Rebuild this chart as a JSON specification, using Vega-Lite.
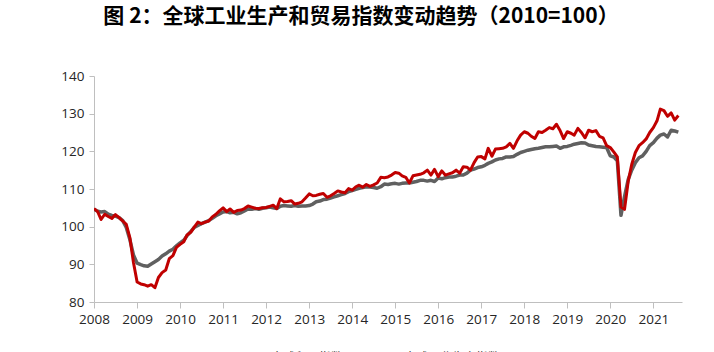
{
  "$schema": "https://vega.github.io/schema/vega-lite/v6.json",
  "autosize": "none",
  "width": 588,
  "height": 226,
  "padding": {"left": 94, "top": 76, "right": 32, "bottom": 50},
  "background": "white",
  "title": {
    "text": "图 2：全球工业生产和贸易指数变动趋势（2010=100）",
    "font": "Noto Sans CJK SC",
    "fontSize": 21,
    "fontWeight": "bold",
    "color": "#000000",
    "anchor": "middle",
    "frame": "group",
    "dx": -27,
    "offset": 42
  },
  "config": {
    "view": {"stroke": null},
    "axis": {
      "labelFont": "Open Sans",
      "labelFontSize": 13.5,
      "labelColor": "#262626",
      "domainColor": "#bfbfbf",
      "tickColor": "#bfbfbf",
      "grid": false,
      "title": null
    },
    "axisY": {"tickCount": 7, "labelOverlap": false},
    "legend": {"labelFont": "Noto Sans CJK SC", "labelFontSize": 12, "labelColor": "#333333"}
  },
  "data": {
    "values": [
      {"date": "2008-01-01", "ip": 104.6, "trade": 104.8},
      {"date": "2008-02-01", "ip": 104.1, "trade": 104.0},
      {"date": "2008-03-01", "ip": 103.9, "trade": 101.9},
      {"date": "2008-04-01", "ip": 104.0, "trade": 103.3},
      {"date": "2008-05-01", "ip": 103.3, "trade": 102.7},
      {"date": "2008-06-01", "ip": 103.0, "trade": 102.2},
      {"date": "2008-07-01", "ip": 102.8, "trade": 103.2},
      {"date": "2008-08-01", "ip": 102.4, "trade": 102.4},
      {"date": "2008-09-01", "ip": 101.6, "trade": 101.5},
      {"date": "2008-10-01", "ip": 99.8, "trade": 100.6},
      {"date": "2008-11-01", "ip": 96.5, "trade": 97.0},
      {"date": "2008-12-01", "ip": 92.5, "trade": 90.5},
      {"date": "2009-01-01", "ip": 90.3, "trade": 85.3},
      {"date": "2009-02-01", "ip": 89.9, "trade": 84.8},
      {"date": "2009-03-01", "ip": 89.6, "trade": 84.6},
      {"date": "2009-04-01", "ip": 89.5, "trade": 84.2},
      {"date": "2009-05-01", "ip": 90.1, "trade": 84.6},
      {"date": "2009-06-01", "ip": 90.7, "trade": 83.8},
      {"date": "2009-07-01", "ip": 91.3, "trade": 86.5},
      {"date": "2009-08-01", "ip": 92.2, "trade": 87.8},
      {"date": "2009-09-01", "ip": 92.8, "trade": 88.5},
      {"date": "2009-10-01", "ip": 93.5, "trade": 91.5},
      {"date": "2009-11-01", "ip": 94.0, "trade": 92.3},
      {"date": "2009-12-01", "ip": 94.9, "trade": 94.5},
      {"date": "2010-01-01", "ip": 95.7, "trade": 95.3},
      {"date": "2010-02-01", "ip": 96.4, "trade": 96.0},
      {"date": "2010-03-01", "ip": 97.6, "trade": 97.8},
      {"date": "2010-04-01", "ip": 98.7, "trade": 98.5},
      {"date": "2010-05-01", "ip": 99.8, "trade": 99.9},
      {"date": "2010-06-01", "ip": 100.3, "trade": 101.2},
      {"date": "2010-07-01", "ip": 100.8, "trade": 100.8},
      {"date": "2010-08-01", "ip": 101.2, "trade": 101.2},
      {"date": "2010-09-01", "ip": 101.6, "trade": 101.5},
      {"date": "2010-10-01", "ip": 102.2, "trade": 102.6},
      {"date": "2010-11-01", "ip": 102.9, "trade": 103.3},
      {"date": "2010-12-01", "ip": 103.4, "trade": 104.2},
      {"date": "2011-01-01", "ip": 103.9, "trade": 105.0},
      {"date": "2011-02-01", "ip": 104.0, "trade": 104.0},
      {"date": "2011-03-01", "ip": 103.7, "trade": 104.7},
      {"date": "2011-04-01", "ip": 103.8, "trade": 103.8},
      {"date": "2011-05-01", "ip": 103.4, "trade": 104.3},
      {"date": "2011-06-01", "ip": 103.7, "trade": 104.4},
      {"date": "2011-07-01", "ip": 104.2, "trade": 104.8},
      {"date": "2011-08-01", "ip": 104.7, "trade": 105.5},
      {"date": "2011-09-01", "ip": 104.6, "trade": 105.2},
      {"date": "2011-10-01", "ip": 104.8, "trade": 104.9},
      {"date": "2011-11-01", "ip": 104.6, "trade": 104.8},
      {"date": "2011-12-01", "ip": 104.9, "trade": 105.0},
      {"date": "2012-01-01", "ip": 105.0, "trade": 105.1},
      {"date": "2012-02-01", "ip": 105.2, "trade": 105.4},
      {"date": "2012-03-01", "ip": 105.0, "trade": 105.7},
      {"date": "2012-04-01", "ip": 104.8, "trade": 104.8},
      {"date": "2012-05-01", "ip": 105.4, "trade": 107.4},
      {"date": "2012-06-01", "ip": 105.6, "trade": 106.6},
      {"date": "2012-07-01", "ip": 105.5, "trade": 106.7},
      {"date": "2012-08-01", "ip": 105.4, "trade": 106.9},
      {"date": "2012-09-01", "ip": 105.6, "trade": 106.0},
      {"date": "2012-10-01", "ip": 105.4, "trade": 106.2},
      {"date": "2012-11-01", "ip": 105.5, "trade": 106.6},
      {"date": "2012-12-01", "ip": 105.5, "trade": 107.6},
      {"date": "2013-01-01", "ip": 105.6, "trade": 108.7},
      {"date": "2013-02-01", "ip": 106.0, "trade": 108.2},
      {"date": "2013-03-01", "ip": 106.6, "trade": 108.3},
      {"date": "2013-04-01", "ip": 106.8, "trade": 108.6},
      {"date": "2013-05-01", "ip": 107.2, "trade": 108.8},
      {"date": "2013-06-01", "ip": 107.3, "trade": 107.8},
      {"date": "2013-07-01", "ip": 107.6, "trade": 108.2},
      {"date": "2013-08-01", "ip": 107.9, "trade": 108.8},
      {"date": "2013-09-01", "ip": 108.2, "trade": 109.5},
      {"date": "2013-10-01", "ip": 108.5, "trade": 109.2},
      {"date": "2013-11-01", "ip": 108.8, "trade": 109.0},
      {"date": "2013-12-01", "ip": 109.3, "trade": 110.1},
      {"date": "2014-01-01", "ip": 109.6, "trade": 109.7},
      {"date": "2014-02-01", "ip": 109.9, "trade": 110.6},
      {"date": "2014-03-01", "ip": 110.2, "trade": 111.0},
      {"date": "2014-04-01", "ip": 110.4, "trade": 110.5},
      {"date": "2014-05-01", "ip": 110.6, "trade": 111.2},
      {"date": "2014-06-01", "ip": 110.5, "trade": 110.7},
      {"date": "2014-07-01", "ip": 110.4, "trade": 111.1},
      {"date": "2014-08-01", "ip": 110.2, "trade": 111.6},
      {"date": "2014-09-01", "ip": 110.6, "trade": 113.1},
      {"date": "2014-10-01", "ip": 111.3, "trade": 113.0},
      {"date": "2014-11-01", "ip": 111.2, "trade": 113.2},
      {"date": "2014-12-01", "ip": 111.4, "trade": 113.7},
      {"date": "2015-01-01", "ip": 111.5, "trade": 114.4},
      {"date": "2015-02-01", "ip": 111.3, "trade": 114.2},
      {"date": "2015-03-01", "ip": 111.5, "trade": 113.5},
      {"date": "2015-04-01", "ip": 111.6, "trade": 113.1},
      {"date": "2015-05-01", "ip": 111.6, "trade": 111.6},
      {"date": "2015-06-01", "ip": 111.8, "trade": 113.5},
      {"date": "2015-07-01", "ip": 112.0, "trade": 113.7},
      {"date": "2015-08-01", "ip": 112.3, "trade": 113.9},
      {"date": "2015-09-01", "ip": 112.3, "trade": 114.3},
      {"date": "2015-10-01", "ip": 112.1, "trade": 115.0},
      {"date": "2015-11-01", "ip": 112.3, "trade": 113.7},
      {"date": "2015-12-01", "ip": 112.0, "trade": 115.2},
      {"date": "2016-01-01", "ip": 112.9, "trade": 113.3},
      {"date": "2016-02-01", "ip": 112.7, "trade": 114.8},
      {"date": "2016-03-01", "ip": 113.0, "trade": 113.7},
      {"date": "2016-04-01", "ip": 113.2, "trade": 114.0},
      {"date": "2016-05-01", "ip": 113.2, "trade": 114.3},
      {"date": "2016-06-01", "ip": 113.4, "trade": 115.0},
      {"date": "2016-07-01", "ip": 113.7, "trade": 114.2},
      {"date": "2016-08-01", "ip": 113.7, "trade": 115.9},
      {"date": "2016-09-01", "ip": 114.2, "trade": 115.8},
      {"date": "2016-10-01", "ip": 115.0, "trade": 115.0},
      {"date": "2016-11-01", "ip": 115.3, "trade": 117.0},
      {"date": "2016-12-01", "ip": 115.7, "trade": 118.5},
      {"date": "2017-01-01", "ip": 115.9, "trade": 118.6},
      {"date": "2017-02-01", "ip": 116.3, "trade": 118.0},
      {"date": "2017-03-01", "ip": 116.8, "trade": 120.8},
      {"date": "2017-04-01", "ip": 117.2, "trade": 118.7},
      {"date": "2017-05-01", "ip": 117.7, "trade": 120.6},
      {"date": "2017-06-01", "ip": 118.0, "trade": 120.7},
      {"date": "2017-07-01", "ip": 118.1, "trade": 120.8},
      {"date": "2017-08-01", "ip": 118.5, "trade": 121.2},
      {"date": "2017-09-01", "ip": 118.5, "trade": 122.1},
      {"date": "2017-10-01", "ip": 118.6, "trade": 120.8},
      {"date": "2017-11-01", "ip": 119.2, "trade": 122.8},
      {"date": "2017-12-01", "ip": 119.7, "trade": 124.3},
      {"date": "2018-01-01", "ip": 120.0, "trade": 125.2},
      {"date": "2018-02-01", "ip": 120.3, "trade": 124.8},
      {"date": "2018-03-01", "ip": 120.5, "trade": 124.0},
      {"date": "2018-04-01", "ip": 120.7, "trade": 123.4},
      {"date": "2018-05-01", "ip": 120.8, "trade": 125.2},
      {"date": "2018-06-01", "ip": 121.0, "trade": 125.0},
      {"date": "2018-07-01", "ip": 121.2, "trade": 125.6},
      {"date": "2018-08-01", "ip": 121.2, "trade": 126.3},
      {"date": "2018-09-01", "ip": 121.3, "trade": 126.0},
      {"date": "2018-10-01", "ip": 121.4, "trade": 127.2},
      {"date": "2018-11-01", "ip": 120.8, "trade": 125.5},
      {"date": "2018-12-01", "ip": 121.2, "trade": 123.4},
      {"date": "2019-01-01", "ip": 121.3, "trade": 125.2},
      {"date": "2019-02-01", "ip": 121.6, "trade": 124.8},
      {"date": "2019-03-01", "ip": 121.9, "trade": 124.3},
      {"date": "2019-04-01", "ip": 122.1, "trade": 126.1},
      {"date": "2019-05-01", "ip": 122.3, "trade": 125.0},
      {"date": "2019-06-01", "ip": 122.2, "trade": 123.6},
      {"date": "2019-07-01", "ip": 121.7, "trade": 125.6},
      {"date": "2019-08-01", "ip": 121.5, "trade": 125.2},
      {"date": "2019-09-01", "ip": 121.3, "trade": 125.5},
      {"date": "2019-10-01", "ip": 121.2, "trade": 124.0},
      {"date": "2019-11-01", "ip": 121.1, "trade": 123.6},
      {"date": "2019-12-01", "ip": 121.0, "trade": 121.5},
      {"date": "2020-01-01", "ip": 118.8, "trade": 121.0},
      {"date": "2020-02-01", "ip": 118.5, "trade": 119.8},
      {"date": "2020-03-01", "ip": 117.5, "trade": 118.5},
      {"date": "2020-04-01", "ip": 103.0, "trade": 105.2},
      {"date": "2020-05-01", "ip": 108.0, "trade": 104.6},
      {"date": "2020-06-01", "ip": 112.5, "trade": 112.0},
      {"date": "2020-07-01", "ip": 115.0, "trade": 116.5},
      {"date": "2020-08-01", "ip": 117.0, "trade": 119.7},
      {"date": "2020-09-01", "ip": 118.3, "trade": 121.5},
      {"date": "2020-10-01", "ip": 118.8, "trade": 122.3},
      {"date": "2020-11-01", "ip": 120.0, "trade": 123.3},
      {"date": "2020-12-01", "ip": 121.5, "trade": 125.0},
      {"date": "2021-01-01", "ip": 122.3, "trade": 126.3},
      {"date": "2021-02-01", "ip": 123.5, "trade": 128.1},
      {"date": "2021-03-01", "ip": 124.3, "trade": 131.2},
      {"date": "2021-04-01", "ip": 124.6, "trade": 130.8},
      {"date": "2021-05-01", "ip": 123.8, "trade": 129.3},
      {"date": "2021-06-01", "ip": 125.6, "trade": 130.2},
      {"date": "2021-07-01", "ip": 125.4, "trade": 128.3},
      {"date": "2021-08-01", "ip": 125.1, "trade": 129.5}
    ]
  },
  "encoding": {
    "x": {
      "field": "date",
      "type": "temporal",
      "scale": {"type": "utc", "domain": ["2008-01-01", "2021-09-01"]},
      "axis": {
        "format": "%Y",
        "formatType": "utc",
        "tickCount": {"interval": "year", "step": 1},
        "tickSize": 6,
        "labelPadding": 4,
        "labelAlign": "center",
        "labelOverlap": false
      }
    }
  },
  "layer": [
    {
      "mark": {"type": "line", "strokeWidth": 3.5, "strokeJoin": "round", "clip": true},
      "encoding": {
        "y": {
          "field": "ip",
          "type": "quantitative",
          "scale": {"domain": [80, 140], "nice": false, "zero": false},
          "axis": {"values": [80, 90, 100, 110, 120, 130, 140], "tickCount": 7, "tickSize": 5, "labelPadding": 5, "labelOverlap": false}
        },
        "color": {"datum": "全球工业生产指数"}
      }
    },
    {
      "mark": {"type": "line", "strokeWidth": 3, "strokeJoin": "round", "clip": true},
      "encoding": {
        "y": {
          "field": "trade",
          "type": "quantitative",
          "axis": {"values": [80, 90, 100, 110, 120, 130, 140], "tickCount": 7, "tickSize": 5, "labelPadding": 5, "labelOverlap": false}
        },
        "color": {
          "datum": "全球贸易指数",
          "scale": {"domain": ["全球贸易指数", "全球工业生产指数"], "range": ["#C00000", "#606060"]},
          "legend": {
            "orient": "none",
            "direction": "horizontal",
            "legendX": 152,
            "legendY": 271,
            "title": null,
            "symbolType": "stroke",
            "symbolStrokeWidth": 3,
            "symbolSize": 300,
            "columnPadding": 30
          }
        }
      }
    }
  ]
}
